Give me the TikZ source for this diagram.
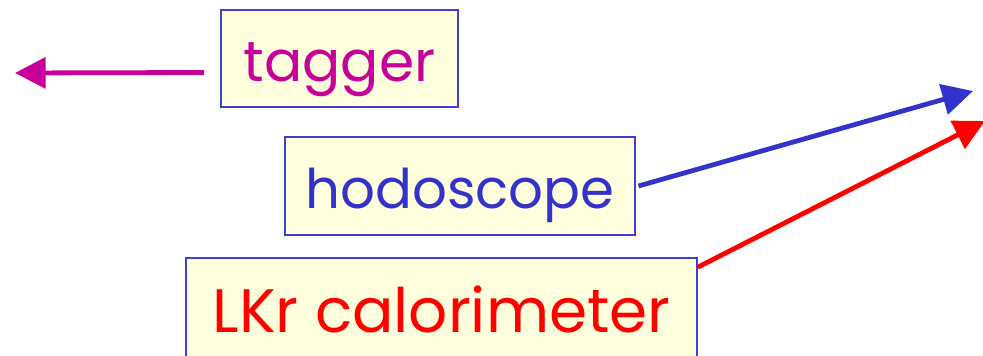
\documentclass[tikz,border=0pt]{standalone}
\usepackage{fontspec}
\setmainfont{Poppins}
\usetikzlibrary{arrows.meta}
\definecolor{tagcol}{RGB}{200,0,155}
\definecolor{hodocol}{RGB}{51,51,204}
\definecolor{lkrcol}{RGB}{255,0,0}
\definecolor{boxfill}{RGB}{255,255,221}
\definecolor{boxline}{RGB}{64,64,208}
\begin{document}
\begin{tikzpicture}[x=0.75pt,y=-0.75pt,
  labelbox/.style={draw=boxline,line width=1.2pt,fill=boxfill,inner sep=0pt,
    text height=34.5pt,text depth=0pt},
  beam/.style={line width=3.6pt,-{Triangle[length=23pt,width=23pt]}}]
\useasboundingbox (0,0) rectangle (983,356);
\clip (0,0) rectangle (983,356);
\node[labelbox,text=tagcol,minimum width=177.75pt,minimum height=72.75pt,
  font=\fontsize{42.5}{50}\selectfont] (tagger) at (339.5,58.5) {tagger};
\node[labelbox,text=hodocol,minimum width=262.5pt,minimum height=73.5pt,
  font=\fontsize{41}{50}\selectfont] (hodo) at (460,186) {hodoscope};
\node[labelbox,text=lkrcol,minimum width=383.25pt,minimum height=78pt,
  font=\fontsize{46}{55}\selectfont] (lkr) at (441.5,310) {LKr calorimeter};
\coordinate (tagend) at (15,73);
\coordinate (hodoend) at (973,91);
\coordinate (lkrend) at (985,121);
\draw[beam,tagcol] ([xshift=-12pt,yshift=-10.5pt]tagger.west) -- (tagend);
\draw[beam,hodocol] ([xshift=2pt]hodo.east) -- (hodoend);
\draw[beam,lkrcol] ([yshift=-7.5pt]lkr.north east) -- (lkrend);
\end{tikzpicture}
\end{document}
